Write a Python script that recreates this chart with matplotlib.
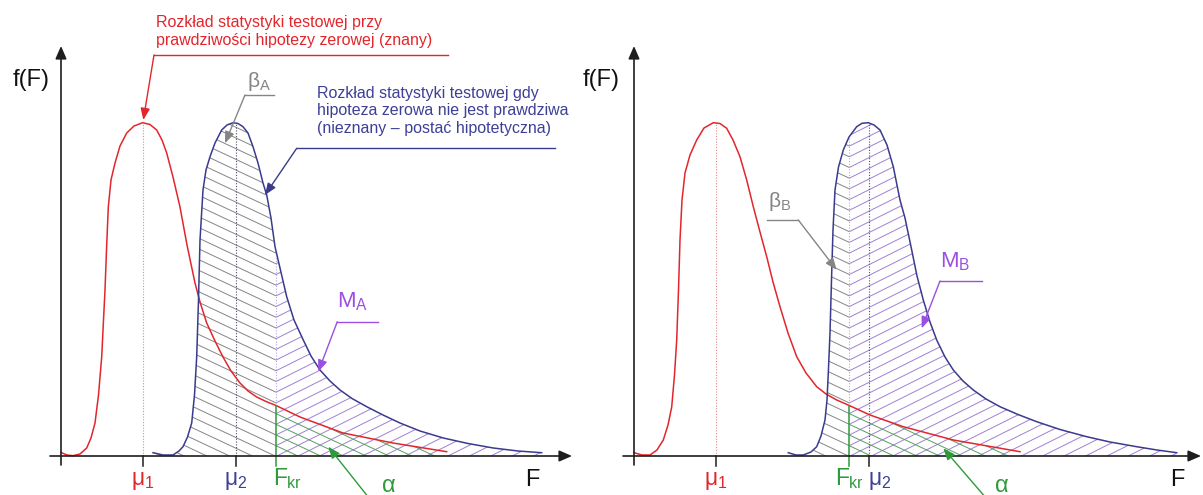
import numpy as np
import matplotlib.pyplot as plt
from matplotlib.patches import Polygon
from matplotlib.collections import LineCollection

plt.rcParams['font.family'] = ['Liberation Sans', 'DejaVu Sans']
plt.rcParams['mathtext.fontset'] = 'custom'
plt.rcParams['mathtext.rm'] = 'Liberation Sans'
plt.rcParams['mathtext.it'] = 'Liberation Sans'
plt.rcParams['mathtext.bf'] = 'Liberation Sans:bold'

# ---- curves (F, f(F)) ----
# panel A
red_a_x = [0.00, 0.06, 0.12, 0.19, 0.257, 0.30, 0.34, 0.375, 0.407, 0.425, 0.44, 0.455,
           0.473, 0.50, 0.54, 0.59, 0.657, 0.73, 0.817, 0.89, 0.957, 1.01, 1.057, 1.12,
           1.19, 1.26, 1.34, 1.39, 1.457, 1.54, 1.62, 1.70, 1.79, 1.87, 1.957, 2.05,
           2.15, 2.39, 2.82, 3.32, 3.857]
red_a_y = [0.035, 0.01, 0.003, 0.02, 0.08, 0.18, 0.33, 0.61, 0.99, 1.36, 1.66, 2.06,
           2.49, 2.76, 2.93, 3.10, 3.23, 3.30, 3.333, 3.315, 3.26, 3.16, 3.03, 2.79,
           2.49, 2.11, 1.73, 1.54, 1.33, 1.15, 0.99, 0.85, 0.73, 0.65, 0.59, 0.545,
           0.505, 0.39, 0.23, 0.13, 0.043]
blue_a_x = [0.92, 1.02, 1.12, 1.18, 1.22, 1.265, 1.307, 1.335, 1.357, 1.375, 1.39, 1.42,
            1.45, 1.49, 1.54, 1.607, 1.66, 1.72, 1.77, 1.82, 1.87, 1.92, 1.97, 2.02,
            2.057, 2.10, 2.14, 2.19, 2.257, 2.33, 2.423, 2.50, 2.59, 2.69, 2.79, 2.91,
            3.057, 3.22, 3.39, 3.59, 3.823, 4.07, 4.323, 4.57, 4.807]
blue_a_y = [0.033, 0.01, 0.01, 0.05, 0.093, 0.19, 0.33, 0.61, 0.993, 1.56, 2.16, 2.66,
            2.86, 2.993, 3.13, 3.26, 3.31, 3.333, 3.325, 3.293, 3.23, 3.093, 2.93, 2.73,
            2.61, 2.38, 2.093, 1.88, 1.593, 1.36, 1.16, 1.00, 0.86, 0.75, 0.66, 0.575,
            0.493, 0.41, 0.33, 0.25, 0.18, 0.125, 0.08, 0.05, 0.033]
mu1_a, mu2_a, fkr_a = 0.82, 1.745, 2.15

# panel B
red_b_x = [0.00, 0.08, 0.16, 0.23, 0.293, 0.34, 0.377, 0.405, 0.427, 0.445, 0.46, 0.48,
           0.51, 0.56, 0.627, 0.70, 0.793, 0.86, 0.927, 0.99, 1.06, 1.127, 1.193, 1.26,
           1.327, 1.39, 1.46, 1.54, 1.627, 1.72, 1.827, 1.92, 2.027, 2.153, 2.36, 2.693,
           3.193, 3.86]
red_b_y = [0.033, 0.01, 0.01, 0.06, 0.16, 0.31, 0.49, 0.81, 1.16, 1.66, 2.16, 2.56,
           2.83, 3.01, 3.16, 3.28, 3.333, 3.325, 3.277, 3.16, 2.993, 2.76, 2.493, 2.24,
           1.993, 1.74, 1.493, 1.23, 0.993, 0.83, 0.693, 0.62, 0.56, 0.505, 0.41, 0.293,
           0.16, 0.043]
blue_b_x = [1.543, 1.62, 1.693, 1.77, 1.827, 1.87, 1.91, 1.93, 1.943, 1.96, 1.977, 1.99,
            2.01, 2.045, 2.093, 2.15, 2.227, 2.28, 2.343, 2.40, 2.46, 2.53, 2.593, 2.66,
            2.71, 2.777, 2.83, 2.893, 2.96, 3.027, 3.11, 3.193, 3.29, 3.393, 3.52, 3.66,
            3.84, 4.027, 4.26, 4.527, 4.76, 5.027, 5.23, 5.427]
blue_b_y = [0.033, 0.01, 0.01, 0.04, 0.093, 0.20, 0.36, 0.56, 0.83, 1.23, 1.83, 2.26,
            2.66, 2.89, 3.06, 3.19, 3.293, 3.327, 3.333, 3.31, 3.26, 3.11, 2.893, 2.56,
            2.38, 2.06, 1.80, 1.56, 1.34, 1.16, 0.99, 0.86, 0.75, 0.66, 0.57, 0.493,
            0.415, 0.343, 0.265, 0.193, 0.14, 0.093, 0.06, 0.033]
mu1_b, mu2_b, fkr_b = 0.82, 2.353, 2.153

RED = '#e2262c'
NAVY = '#3a3b8c'
NAVY_TXT = '#3d4096'
GRAY = '#858585'
PURPLE = '#9a4fe2'
PURPLE_H = '#a07fd6'
GREEN = '#2f9a3c'
GREEN_H = '#52a15c'
AXIS = '#1e1e1e'

fig = plt.figure(figsize=(12.03, 4.95), dpi=100)
ax_a = fig.add_axes([0, 0, 601 / 1203, 1])
ax_b = fig.add_axes([601 / 1203, 0, 602 / 1203, 1])
ax_a.set_xlim(-0.61, 5.40)
ax_b.set_xlim(-0.33, 5.69)
for ax in (ax_a, ax_b):
    ax.set_ylim(-0.39, 4.56)
    ax.set_axis_off()
    ax.patch.set_alpha(0)


def arrow(ax, start, tip, color, lw=1.0, hl=0.5, hw=0.2):
    ax.annotate('', xy=tip, xytext=start, annotation_clip=False,
                arrowprops=dict(arrowstyle=f'-|>,head_length={hl},head_width={hw}',
                                color=color, lw=lw, shrinkA=0, shrinkB=0,
                                mutation_scale=14))


def hatch(ax, x0, x1, slope, ref_x, color, clip, step=0.107):
    cs = np.arange(-3.0, 6.0, step)
    segs = [[(x0, c + slope * (x0 - ref_x)), (x1, c + slope * (x1 - ref_x))] for c in cs]
    lc = LineCollection(segs, colors=color, linewidths=0.7, zorder=1)
    ax.add_collection(lc)
    lc.set_clip_path(clip)


def area(ax, xs, ys):
    pts = list(zip(xs, ys)) + [(xs[-1], 0), (xs[0], 0)]
    poly = Polygon(pts, closed=True, facecolor='none', edgecolor='none',
                   transform=ax.transData)
    ax.add_patch(poly)
    return poly


def panel(ax, rx, ry, bx, by, mu1, mu2, fkr, x_end, x_lab_f, ylab_x,
          fkr_lab, mu2_lab):
    red_poly = area(ax, rx, ry)
    blue_poly = area(ax, bx, by)
    hatch(ax, bx[0], fkr, -0.47, fkr, GRAY, blue_poly)
    hatch(ax, fkr, bx[-1], 0.5, fkr, PURPLE_H, blue_poly)
    hatch(ax, fkr, rx[-1], -0.47, fkr, GREEN_H, red_poly)

    ax.plot(rx, ry, color=RED, lw=1.1, zorder=3)
    ax.plot(bx, by, color=NAVY, lw=1.1, zorder=3)

    r_f = np.interp(fkr, rx, ry)
    b_f = np.interp(fkr, bx, by)
    ax.plot([mu1, mu1], [0, max(ry)], color='#e58a8a', lw=0.8, ls=(0, (1, 1.5)), zorder=2)
    ax.plot([mu2, mu2], [0, max(by)], color='#505068', lw=0.8, ls=(0, (1, 1.5)), zorder=2)
    ax.plot([fkr, fkr], [r_f, b_f], color='#b7a6e6', lw=0.8, ls=(0, (1, 1.5)), zorder=2)
    ax.plot([fkr, fkr], [-0.1, r_f], color=GREEN, lw=1.1, zorder=3)
    for m in (mu1, mu2):
        ax.plot([m, m], [-0.1, 0], color=AXIS, lw=1.1, zorder=4)

    # axes with arrows
    arrow(ax, (-0.11, 0), (x_end, 0), AXIS, lw=1.2, hl=0.55, hw=0.24)
    arrow(ax, (0, -0.09), (0, 4.1), AXIS, lw=1.2, hl=0.55, hw=0.24)
    ax.text(ylab_x, 3.70, 'f(F)', fontsize=17, color='#111111', ha='left', va='baseline')
    ax.text(x_lab_f, -0.30, 'F', fontsize=17, color='#111111', ha='left', va='baseline')

    ax.text(mu1, -0.29, r'$\mu_1$', fontsize=16.5, color=RED, ha='center', va='baseline')
    ax.text(mu2_lab[0], -0.29, r'$\mu_2$', fontsize=16.5, color=NAVY_TXT,
            ha=mu2_lab[1], va='baseline')
    ax.text(fkr_lab[0], -0.29, r'$F_{kr}$', fontsize=16.5, color=GREEN,
            ha=fkr_lab[1], va='baseline')


panel(ax_a, red_a_x, red_a_y, blue_a_x, blue_a_y, mu1_a, mu2_a, fkr_a,
      5.11, 4.64, -0.48, (fkr_a - 0.03, 'left'), (mu2_a, 'center'))
panel(ax_b, red_b_x, red_b_y, blue_b_x, blue_b_y, mu1_b, mu2_b, fkr_b,
      5.67, 5.36, -0.51, (fkr_b - 0.0, 'center'), (mu2_b - 0.01, 'left'))

# ---- panel A annotations ----
ax_a.text(0.95, 4.243, 'Rozkład statystyki testowej przy\nprawdziwości hipotezy zerowej (znany)',
          fontsize=11.5, color=RED, ha='left', va='center', linespacing=1.3)
ax_a.plot([0.93, 3.87], [4.01, 4.01], color=RED, lw=1.0)
arrow(ax_a, (0.93, 4.01), (0.823, 3.36), RED)

ax_a.text(2.563, 3.452, 'Rozkład statystyki testowej gdy\nhipoteza zerowa nie jest prawdziwa\n'
          '(nieznany \u2013 postać hipotetyczna)',
          fontsize=11.5, color=NAVY_TXT, ha='left', va='center', linespacing=1.2)
ax_a.plot([2.357, 4.94], [3.077, 3.077], color=NAVY, lw=1.0)
arrow(ax_a, (2.357, 3.077), (2.04, 2.61), NAVY)

ax_a.text(1.98, 3.74, r'$\beta_A$', fontsize=15, color=GRAY, ha='center', va='center')
ax_a.plot([1.84, 2.13], [3.61, 3.61], color=GRAY, lw=1.0)
arrow(ax_a, (1.84, 3.61), (1.64, 3.127), GRAY)

ax_a.text(2.91, 1.54, r'$M_A$', fontsize=16, color=PURPLE, ha='center', va='center')
ax_a.plot([2.763, 3.173], [1.343, 1.343], color=PURPLE, lw=1.0)
arrow(ax_a, (2.763, 1.343), (2.573, 0.843), PURPLE)

ax_a.text(3.27, -0.36, r'$\alpha$', fontsize=17, color=GREEN, ha='center', va='baseline')
arrow(ax_a, (3.08, -0.42), (2.673, 0.093), GREEN)

# ---- panel B annotations ----
ax_b.text(1.46, 2.54, r'$\beta_B$', fontsize=15, color=GRAY, ha='center', va='center')
ax_b.plot([1.327, 1.643], [2.36, 2.36], color=GRAY, lw=1.0)
arrow(ax_b, (1.643, 2.36), (2.027, 1.86), GRAY)

ax_b.text(3.21, 1.94, r'$M_B$', fontsize=16, color=PURPLE, ha='center', va='center')
ax_b.plot([3.06, 3.483], [1.75, 1.75], color=PURPLE, lw=1.0)
arrow(ax_b, (3.06, 1.75), (2.877, 1.277), PURPLE)

ax_b.text(3.67, -0.36, r'$\alpha$', fontsize=17, color=GREEN, ha='center', va='baseline')
arrow(ax_b, (3.52, -0.42), (3.093, 0.077), GREEN)

fig.savefig('out.png', dpi=100)
